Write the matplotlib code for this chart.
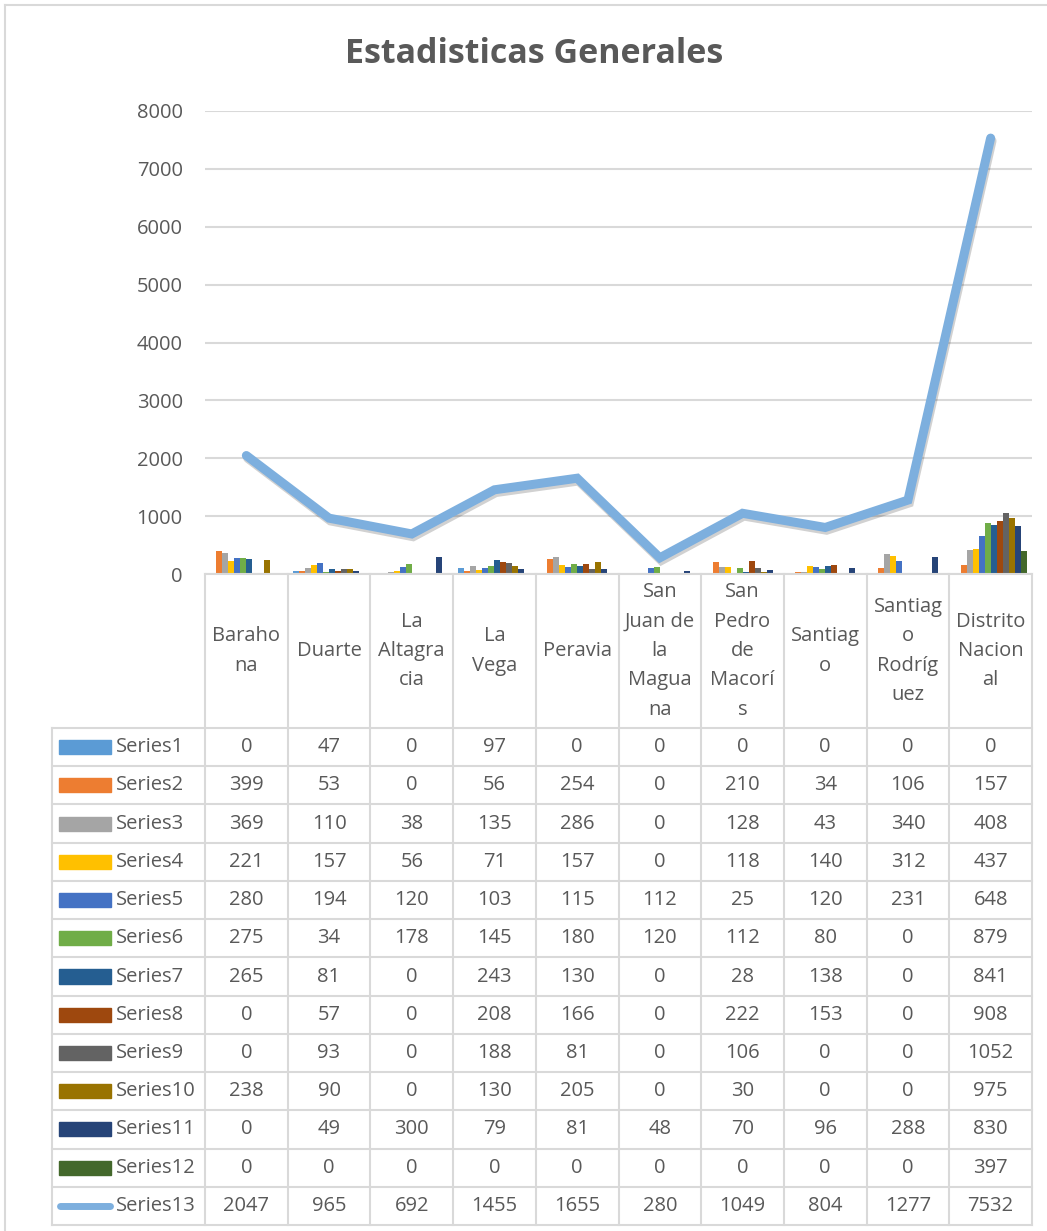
import matplotlib
matplotlib.use("Agg")
import matplotlib.pyplot as plt
import matplotlib.patheffects as pe
import numpy as np

plt.rcParams['font.family'] = ['Open Sans', 'DejaVu Sans']

# datos
categorias = ["Barahona", "Duarte", "La Altagracia", "La Vega", "Peravia",
              "San Juan de la Maguana", "San Pedro de Macorís", "Santiago",
              "Santiago Rodríguez", "Distrito Nacional"]
etiquetas = ["Baraho\nna", "Duarte", "La\nAltagra\ncia", "La\nVega", "Peravia",
             "San\nJuan de\nla\nMagua\nna", "San\nPedro\nde\nMacorí\ns", "Santiag\no",
             "Santiag\no\nRodríg\nuez", "Distrito\nNacion\nal"]
series1 = [0, 47, 0, 97, 0, 0, 0, 0, 0, 0]
series2 = [399, 53, 0, 56, 254, 0, 210, 34, 106, 157]
series3 = [369, 110, 38, 135, 286, 0, 128, 43, 340, 408]
series4 = [221, 157, 56, 71, 157, 0, 118, 140, 312, 437]
series5 = [280, 194, 120, 103, 115, 112, 25, 120, 231, 648]
series6 = [275, 34, 178, 145, 180, 120, 112, 80, 0, 879]
series7 = [265, 81, 0, 243, 130, 0, 28, 138, 0, 841]
series8 = [0, 57, 0, 208, 166, 0, 222, 153, 0, 908]
series9 = [0, 93, 0, 188, 81, 0, 106, 0, 0, 1052]
series10 = [238, 90, 0, 130, 205, 0, 30, 0, 0, 975]
series11 = [0, 49, 300, 79, 81, 48, 70, 96, 288, 830]
series12 = [0, 0, 0, 0, 0, 0, 0, 0, 0, 397]
series13 = [2047, 965, 692, 1455, 1655, 280, 1049, 804, 1277, 7532]

barras = [series1, series2, series3, series4, series5, series6,
          series7, series8, series9, series10, series11, series12]
nombres = ["Series%d" % (i + 1) for i in range(13)]
colores = ["#5B9BD5", "#ED7D31", "#A5A5A5", "#FFC000", "#4472C4", "#70AD47",
           "#255E91", "#9E480E", "#636363", "#997300", "#264478", "#43682B"]
color_linea = "#7DAFDE"
gris = "#595959"
borde = "#D9D9D9"

W, H = 1047, 1231
fig = plt.figure(figsize=(W / 100, H / 100), dpi=100)

def fx(px):
    return px / W

def fy(py):
    return 1 - py / H

# marco exterior
fig.add_artist(plt.Line2D([fx(5), fx(5)], [fy(5), 0], color=borde, lw=1.5))
fig.add_artist(plt.Line2D([fx(5), 1], [fy(5), fy(5)], color=borde, lw=1.5))

fig.text(fx(534), fy(54), "Estadisticas Generales", ha="center", va="center",
         fontsize=24.5, fontweight="bold", color=gris)

# area del grafico
izq, der, abajo, arriba = 205, 1032, 574, 111
ax = fig.add_axes([fx(izq), fy(abajo), fx(der - izq), fy(arriba) - fy(abajo)])
n = len(categorias)
x = np.arange(n)
ancho = 0.87 / len(barras)
for i, (vals, c) in enumerate(zip(barras, colores)):
    off = (i - (len(barras) - 1) / 2) * ancho
    ax.bar(x + off, vals, width=ancho, color=c, zorder=2)
ax.plot(x, series13, color=color_linea, lw=6.5, solid_capstyle="round",
        solid_joinstyle="miter", zorder=3,
        path_effects=[pe.SimpleLineShadow(offset=(1, -2), alpha=0.18, rho=1.0),
                      pe.Normal()])
ax.set_xlim(-0.5, n - 0.5)
ax.set_ylim(0, 8000)
ax.set_yticks(range(0, 8001, 1000))
ax.yaxis.grid(True, color=borde, lw=1.5)
ax.set_axisbelow(True)
ax.set_xticks([])
for s in ax.spines.values():
    s.set_visible(False)
ax.tick_params(axis="y", length=0, labelsize=14.5, labelcolor=gris, pad=16)

# tabla de datos
fila0 = 728
alto = (1225 - fila0) / 13
izq_ley = 52
ancho_col = (der - izq) / n
lw_t = 1.5

def col_x(j):
    return izq + j * ancho_col

# cabecera
fig.add_artist(plt.Line2D([fx(izq), fx(der)], [fy(abajo), fy(abajo)], color=borde, lw=lw_t))
for j in range(n + 1):
    fig.add_artist(plt.Line2D([fx(col_x(j)), fx(col_x(j))], [fy(abajo), fy(1225)],
                              color=borde, lw=lw_t))
for j, et in enumerate(etiquetas):
    fig.text(fx(col_x(j) + ancho_col / 2), fy((abajo + fila0) / 2), et,
             ha="center", va="center", fontsize=14.5, color=gris, linespacing=1.62)

# filas
fig.add_artist(plt.Line2D([fx(izq_ley), fx(izq_ley)], [fy(fila0), fy(1225)], color=borde, lw=lw_t))
for r in range(14):
    yy = fila0 + r * alto
    fig.add_artist(plt.Line2D([fx(izq_ley), fx(der)], [fy(yy), fy(yy)], color=borde, lw=lw_t))

valores = barras + [series13]
for r, (nom, vals) in enumerate(zip(nombres, valores)):
    yc = fila0 + (r + 0.5) * alto
    if r < 12:
        fig.add_artist(plt.Rectangle((fx(59), fy(yc + 7)), fx(52), fy(yc - 7) - fy(yc + 7),
                                     color=colores[r]))
    else:
        fig.add_artist(plt.Line2D([fx(60), fx(110)], [fy(yc), fy(yc)], color=color_linea,
                                  lw=5, solid_capstyle="round"))
    fig.text(fx(116), fy(yc), nom, ha="left", va="center", fontsize=14.5, color=gris)
    for j, v in enumerate(vals):
        fig.text(fx(col_x(j) + ancho_col / 2), fy(yc), str(v), ha="center", va="center",
                 fontsize=14.5, color=gris)

fig.savefig("out.png", dpi=100)
